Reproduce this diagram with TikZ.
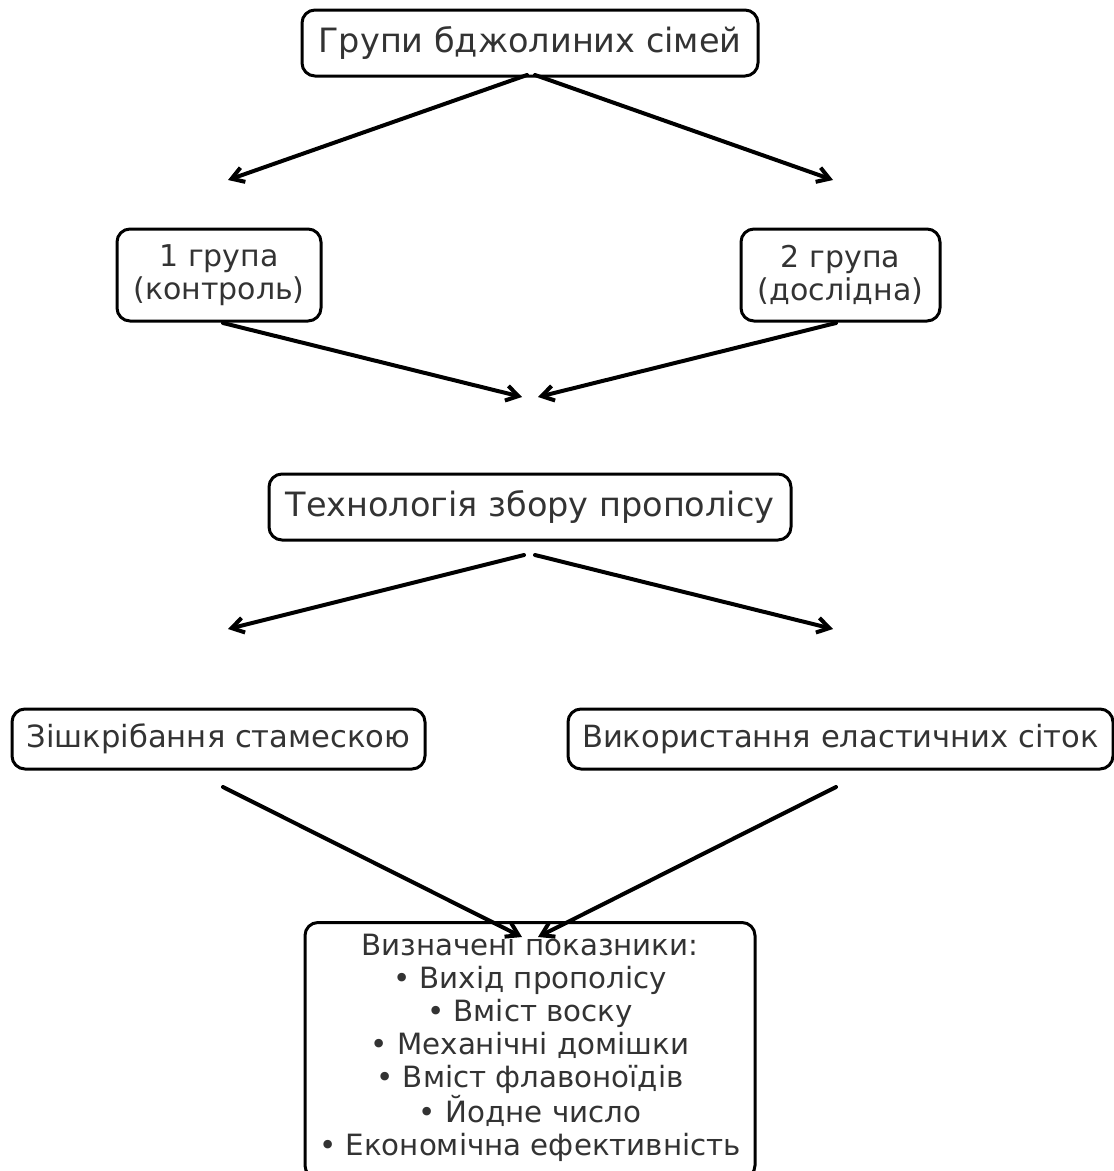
\documentclass[tikz,border=0pt]{standalone}
\usepackage{fontspec}
\setmainfont{DejaVu Sans}
\usetikzlibrary{arrows.meta}
\begin{document}
\begin{tikzpicture}[x=1pt,y=-1pt,line join=round,line cap=round,
  box/.style={draw,rounded corners=13pt,line width=3pt,text=black!80,align=center,inner sep=0pt},
  link/.style={-{Straight Barb[length=12pt,width=15pt]},line width=4pt}]
\useasboundingbox (0,0) rectangle (1114,1171);
% boxes
\node[box,minimum width=456pt,minimum height=66pt,font=\fontsize{33.5}{38}\selectfont] (groups) at (530,43) {Групи бджолиних сімей};
\node[box,minimum width=204pt,minimum height=92pt,font=\fontsize{30}{33}\selectfont] (control) at (219,275) {1 група\\(контроль)};
\node[box,minimum width=199pt,minimum height=92pt,font=\fontsize{30}{33}\selectfont] (trial) at (840.5,275) {2 група\\(дослідна)};
\node[box,minimum width=522pt,minimum height=66pt,font=\fontsize{33.5}{38}\selectfont] (tech) at (530,507) {Технологія збору прополісу};
\node[box,minimum width=413pt,minimum height=60pt,font=\fontsize{30.6}{36}\selectfont] (chisel) at (218.5,739) {Зішкрібання стамескою};
\node[box,minimum width=545pt,minimum height=60pt,font=\fontsize{30.6}{36}\selectfont] (nets) at (840.5,739) {Використання еластичних сіток};
\node[box,minimum width=450pt,minimum height=256pt,anchor=north] (result) at (530,921) {};
\node[text=black!80,align=center,font=\fontsize{29.3}{33}\selectfont,anchor=north] (items) at (530,930) {Визначені показники:\\• Вихід прополісу\\• Вміст воску\\• Механічні домішки\\• Вміст флавоноїдів\\• Йодне число\\• Економічна ефективність};
% free arrow ends
\coordinate (g1) at (527,75);   \coordinate (g2) at (535,75);
\coordinate (c1) at (228,180);  \coordinate (t1) at (833,180);
\coordinate (c2) at (223,323);  \coordinate (t2) at (836,323);
\coordinate (m1) at (522,397);  \coordinate (m2) at (538,397);
\coordinate (k1) at (524,555);  \coordinate (k2) at (535,555);
\coordinate (s1) at (228,629);  \coordinate (n1) at (833,629);
\coordinate (s2) at (223,787);  \coordinate (n2) at (836,787);
\coordinate (r1) at (522,937);  \coordinate (r2) at (538,937);
% arrows
\draw[link] (g1) -- (c1);
\draw[link] (g2) -- (t1);
\draw[link] (c2) -- (m1);
\draw[link] (t2) -- (m2);
\draw[link] (k1) -- (s1);
\draw[link] (k2) -- (n1);
\draw[link] (s2) -- (r1);
\draw[link] (n2) -- (r2);
\end{tikzpicture}
\end{document}
